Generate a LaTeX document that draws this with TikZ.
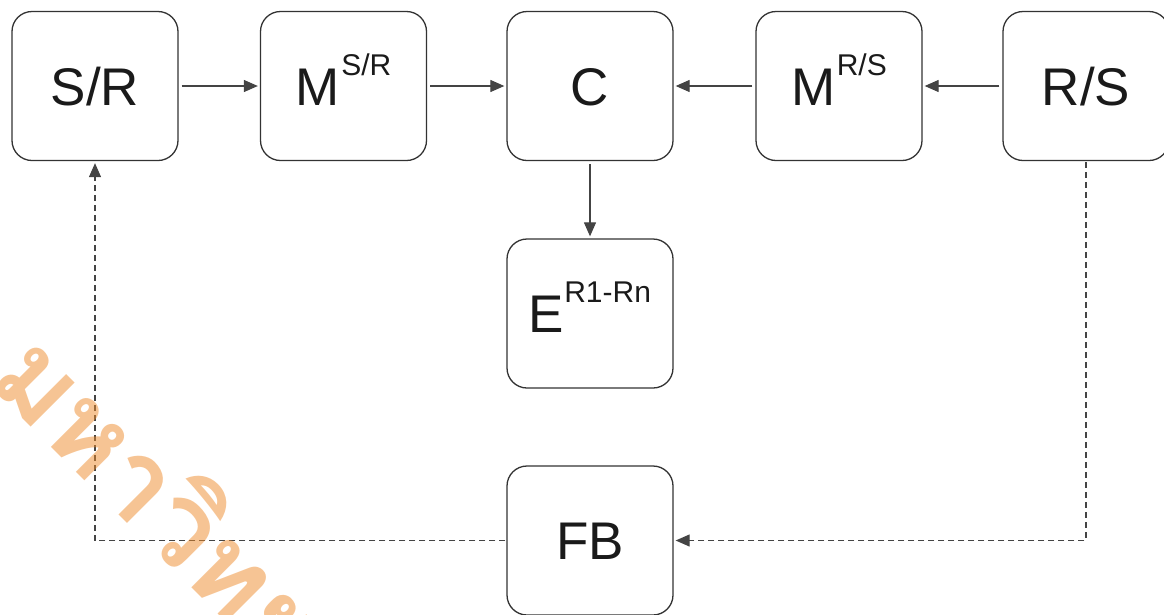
\documentclass[tikz,border=0pt]{standalone}
\usepackage{fontspec}
\setmainfont{Liberation Sans}
\newfontfamily\thaifont[Script=Thai]{Loma}
\usetikzlibrary{arrows.meta}

\definecolor{boxgray}{HTML}{333333}
\definecolor{arrgray}{HTML}{444444}
\definecolor{txtblack}{HTML}{1A1A1A}
\definecolor{markorange}{HTML}{EE8A2A}

\tikzset{
  blk/.style={draw=boxgray, line width=1.3pt, rounded corners=20pt,
    minimum width=166pt, minimum height=149pt, inner sep=0pt,
    text height=38pt, text depth=0pt, text=txtblack,
    font=\fontsize{53pt}{53pt}\selectfont},
  flow/.style={draw=arrgray, line width=1.2pt,
    -{Triangle[length=14pt,width=12pt]}, shorten <=3pt, shorten >=2pt},
  back/.style={flow, dash pattern=on 6pt off 4pt, shorten <=1pt}
}
\newcommand{\uptext}[1]{\raisebox{30pt}{\fontsize{30pt}{30pt}\selectfont #1}}

\begin{document}
\begin{tikzpicture}[x=1pt,y=-1pt]
  \useasboundingbox (0,0) rectangle (1164,614);
  \clip (0,0) rectangle (1164,614);
% Top row of blocks
  \node[blk] (sr) at (95,86) {S/R};
  \node[blk] (msr) at (343.5,86) {M\kern1.5pt\uptext{S/R}};
  \node[blk] (c) at (590,86) {C};
  \node[blk] (mrs) at (839,86) {M\kern1.5pt\uptext{R/S}};
  \node[blk] (rs) at (1086,86) {R/S};
% Result block below C
  \node[blk] (e) at (590,313.5) {E\uptext{R1-Rn}};
% Feedback block
  \node[blk] (fb) at (590,540.5) {FB};
% Forward arrows
  \draw[flow] (sr) -- (msr);
  \draw[flow] (msr) -- (c);
  \draw[flow] (mrs) -- (c);
  \draw[flow] (rs) -- (mrs);
  \draw[flow] (c) -- (e);
% Feedback loop (dashed)
  \draw[back] (rs.south) |- (fb.east);
  \draw[back] (fb.west) -| (sr.south);
% Watermark
  \node[anchor=base west, rotate=-45, inner sep=0pt, text=markorange,
    opacity=0.5, font=\thaifont\bfseries\fontsize{112pt}{112pt}\selectfont]
    (mark) at (-14,382) {มหาวิทยาลัย};
\end{tikzpicture}
\end{document}
